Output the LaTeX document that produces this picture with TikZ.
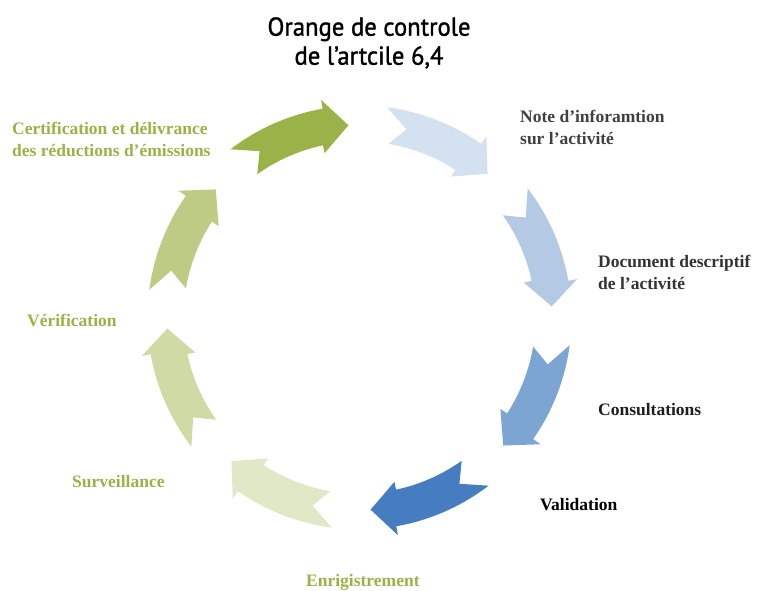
\documentclass[tikz,border=0pt]{standalone}
\usepackage{fontspec}
\setmainfont{Liberation Serif}
\newfontfamily\titre{PT Sans}[FakeStretch=0.95, FakeBold=1.2]
\definecolor{vertA}{HTML}{9BB248}
\definecolor{vertB}{HTML}{BECB85}
\definecolor{vertC}{HTML}{CFDAA4}
\definecolor{vertD}{HTML}{E1E8C8}
\definecolor{bleuA}{HTML}{D4E1F1}
\definecolor{bleuB}{HTML}{B4CAE4}
\definecolor{bleuC}{HTML}{7DA5D4}
\definecolor{bleuD}{HTML}{467DC0}
\begin{document}
\begin{tikzpicture}[x=1pt,y=1pt, line join=round,
	etiq/.style={font=\bfseries\fontsize{17.5}{22}\selectfont, align=left, inner sep=0pt}]
	\def\ri{176} \def\ro{212} \def\rm{194} % rayons
	\def\rbi{168} \def\rbo{221} % pointes de la flèche
	\useasboundingbox (0,0) rectangle (766,591);
	\coordinate (O) at (359.5,273.5);
	% les huit flèches du cycle
	\foreach \r/\c in {90/vertA,45/bleuA,0/bleuB,-45/bleuC,-90/bleuD,-135/vertD,-180/vertC,135/vertB}{
		\fill[\c, shift={(O)}, rotate=\r] (37.5:\ro) -- (31:\rm) -- (35.5:\ri)
		arc[start angle=35.5, end angle=12, radius=\ri] -- (12:\rbi) -- (3.3:192.5)
		-- (10:\rbo) -- (10:\ro) arc[start angle=10, end angle=37.5, radius=\ro] -- cycle;
	}
	\node[inner sep=0pt, anchor=north, align=center, font=\titre\fontsize{26}{29}\selectfont] (titre) at (369,574) {Orange de controle\\ de l’artcile 6,4};
	\node[etiq, vertA, anchor=north west] (certif) at (12,469) {Certification et délivrance\\des réductions d’émissions};
	\node[etiq, black!75, anchor=north west] (note) at (520,481) {Note d’inforamtion\\sur l’activité};
	\node[etiq, black!80, anchor=north west] (doc) at (598,336) {Document descriptif\\de l’activité};
	\node[etiq, black!88, anchor=base west] (consult) at (598,175) {Consultations};
	\node[etiq, black, anchor=base west] (valid) at (540,80) {Validation};
	\node[etiq, vertA, anchor=base west] (enreg) at (306,4.5) {Enrigistrement};
	\node[etiq, vertA, anchor=base west] (surv) at (72,103) {Surveillance};
	\node[etiq, vertA, anchor=base west] (verif) at (27,264) {Vérification};
\end{tikzpicture}
\end{document}
